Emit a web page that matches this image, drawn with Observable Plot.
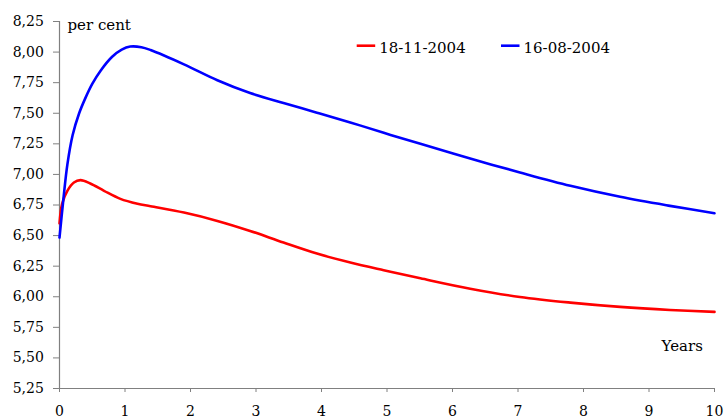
<!DOCTYPE html>
<html>
<head>
<meta charset="utf-8">
<script src="https://cdn.jsdelivr.net/npm/d3@7"></script>
<script src="https://cdn.jsdelivr.net/npm/@observablehq/plot@0.6"></script>
<style>
  html, body { margin: 0; padding: 0; background: white; }
  #chart { position: relative; width: 725px; height: 419px; }
</style>
</head>
<body>
<div id="chart"></div>
<script>
// Series: 18-11-2004 (red)
const redYears = [0, 0.04, 0.12, 0.22, 0.32, 0.47, 0.68, 0.93, 1.19, 1.39, 1.90, 2.41, 2.91, 3.42, 3.93, 4.44, 4.95, 5.51, 6.27, 7.03, 7.80, 8.56, 9.32, 10];
const redRate  = [6.60, 6.76, 6.866, 6.934, 6.953, 6.926, 6.866, 6.80, 6.76, 6.74, 6.688, 6.62, 6.538, 6.443, 6.353, 6.28, 6.217, 6.151, 6.066, 5.998, 5.952, 5.917, 5.892, 5.876];
// Series: 16-08-2004 (blue)
const blueYears = [0, 0.06, 0.12, 0.2, 0.3, 0.4, 0.5, 0.63, 0.8, 0.95, 1.08, 1.25, 1.39, 1.90, 2.41, 2.91, 3.42, 3.93, 4.44, 4.95, 5.51, 6.27, 7.03, 7.80, 8.56, 9.32, 10];
const blueRate  = [6.484, 6.80, 7.08, 7.32, 7.50, 7.63, 7.74, 7.85, 7.96, 8.02, 8.045, 8.04, 8.017, 7.90, 7.77, 7.665, 7.583, 7.505, 7.425, 7.34, 7.25, 7.13, 7.016, 6.907, 6.817, 6.743, 6.683];

const seriesNames = ["18-11-2004", "16-08-2004"];
const seriesColors = ["#ff0000", "#0000ff"];

const yTicks = [5.25, 5.5, 5.75, 6.0, 6.25, 6.5, 6.75, 7.0, 7.25, 7.5, 7.75, 8.0, 8.25];
const xTicks = [0, 1, 2, 3, 4, 5, 6, 7, 8, 9, 10];
const yUnit = "per cent";
const xUnit = "Years";

const red = redYears.map((t, i) => ({t, v: redRate[i]}));
const blue = blueYears.map((t, i) => ({t, v: blueRate[i]}));

const FONT = "'DejaVu Serif', serif";
const axisColor = "#808080";

const chart = Plot.plot({
  width: 725,
  height: 419,
  marginLeft: 59,
  marginRight: 11,
  marginTop: 21,
  marginBottom: 31,
  style: { fontFamily: FONT, fontSize: "14px", color: "black", background: "white" },
  x: { domain: [0, 10] },
  y: { domain: [5.25, 8.25] },
  marks: [
    Plot.axisY(yTicks, {
      tickSize: 6, tickPadding: 9.7, stroke: axisColor, fill: "black", fontSize: 14,
      tickFormat: d => d.toFixed(2).replace(".", ","), label: null
    }),
    Plot.axisX(xTicks, {
      tickSize: 4, tickPadding: 13.5, stroke: axisColor, fill: "black", fontSize: 14,
      tickFormat: d => String(d), label: null
    }),
    Plot.ruleX([0], { stroke: axisColor, strokeWidth: 1.2 }),
    Plot.ruleY([5.25], { stroke: axisColor, strokeWidth: 1.2 }),
    Plot.line(red, { x: "t", y: "v", stroke: seriesColors[0], strokeWidth: 2.6, curve: "catmull-rom" }),
    Plot.line(blue, { x: "t", y: "v", stroke: seriesColors[1], strokeWidth: 2.6, curve: "catmull-rom" }),
    Plot.text([yUnit], { frameAnchor: "top-left", textAnchor: "start", lineAnchor: "middle", dx: 8, dy: 3.7, fill: "black", fontSize: 15 }),
    Plot.text([xUnit], { frameAnchor: "bottom-right", textAnchor: "end", lineAnchor: "middle", dx: -11.6, dy: -42.8, fill: "black", fontSize: 15 })
  ]
});

document.getElementById("chart").appendChild(chart);

// Legend inside the plot area
const svg = d3.select(chart);
const legendPos = [356.7, 501];
const lg = svg.append("g").attr("font-family", FONT).attr("font-size", 15).attr("text-anchor", "start");
seriesNames.forEach((name, i) => {
  const x0 = legendPos[i];
  lg.append("line").attr("x1", x0).attr("x2", x0 + 18.5).attr("y1", 45.7).attr("y2", 45.7)
    .attr("stroke", seriesColors[i]).attr("stroke-width", 2.6);
  lg.append("text").attr("x", x0 + 22.5).attr("y", 53.3).attr("fill", "black").text(name);
});
</script>
</body>
</html>
